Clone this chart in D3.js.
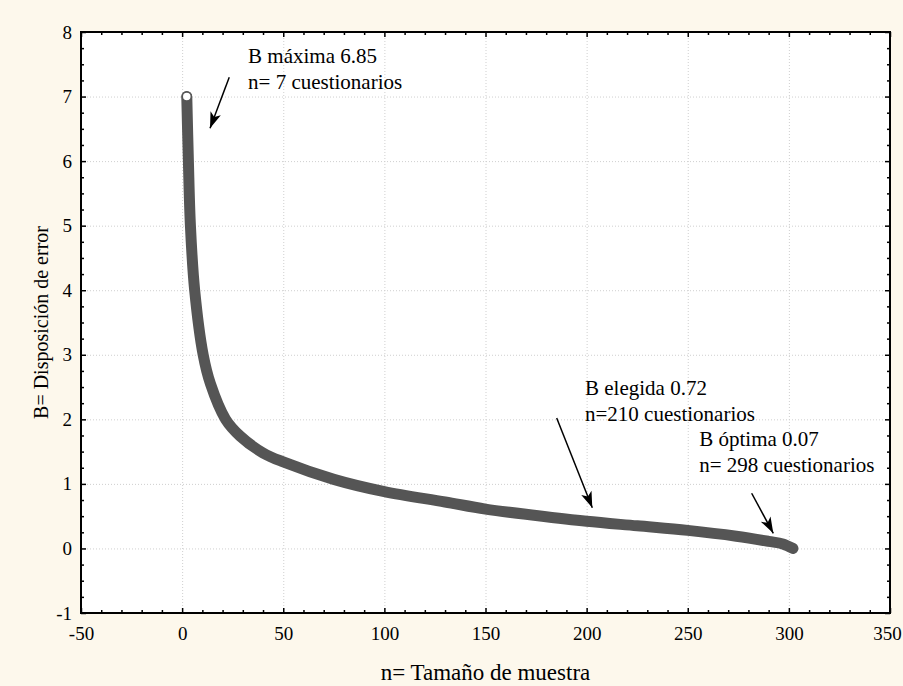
<!DOCTYPE html>
<html>
<head>
<meta charset="utf-8">
<script src="https://cdn.jsdelivr.net/npm/d3@7"></script>
<style>
  body { margin: 0; background: #fdf8ec; }
  svg { display: block; }
  .tick text { font-family: "Liberation Serif", "Times New Roman", serif; font-size: 19px; fill: #000; }
  .grid line { stroke: #cfcfcf; stroke-dasharray: 1,2; }
  .grid .domain { display: none; }
</style>
</head>
<body>
<script>
// curve: n (sample size) vs B (error)
var sampleN = [2.3, 3.1, 4.1, 6.2, 10.4, 14, 21.5, 28.7, 40, 50, 75, 100, 130, 150, 175, 200, 225, 250, 274, 290, 297, 302];
var errorB  = [7.0, 6.0, 5.0, 4.0, 3.0, 2.55, 2.0, 1.74, 1.48, 1.34, 1.07, 0.88, 0.72, 0.61, 0.51, 0.42, 0.35, 0.28, 0.19, 0.11, 0.07, 0.0];

var xTicks = [-50, 0, 50, 100, 150, 200, 250, 300, 350];
var yTicks = [-1, 0, 1, 2, 3, 4, 5, 6, 7, 8];

// annotations (data units): arrow from -> to, and text lines
var noteText = [
  ["B máxima 6.85", "n= 7 cuestionarios"],
  ["B elegida 0.72", "n=210 cuestionarios"],
  ["B óptima 0.07", "n= 298 cuestionarios"]
];
var noteAt = [[32.6, 7.52], [199.2, 2.38], [255.7, 1.58]];
var arrowFrom = [[23.3, 7.30], [185.2, 2.02], [281.6, 0.855]];
var arrowTo = [[13.8, 6.51], [202.8, 0.63], [292.3, 0.235]];

var W = 903, H = 686;
var margin = {top: 32, right: 13, bottom: 73, left: 81};
var width = W - margin.left - margin.right;
var height = H - margin.top - margin.bottom;

var x = d3.scaleLinear().domain([-50, 350]).range([0, width]);
var y = d3.scaleLinear().domain([-1, 8]).range([height, 0]);

var svg = d3.select("body").append("svg")
  .attr("width", W)
  .attr("height", H);

svg.append("defs").append("marker")
  .attr("id", "head")
  .attr("markerUnits", "userSpaceOnUse")
  .attr("viewBox", "-18 -7 20 14")
  .attr("markerWidth", 20)
  .attr("markerHeight", 14)
  .attr("refX", 0)
  .attr("refY", 0)
  .attr("orient", "auto")
  .append("path")
  .attr("d", "M0,0 L-16,-5.5 L-12,0 L-16,5.5 Z")
  .attr("fill", "#000");

var g = svg.append("g")
  .attr("transform", "translate(" + margin.left + "," + margin.top + ")");

g.append("rect")
  .attr("width", width)
  .attr("height", height)
  .attr("fill", "#fff");

// grid
g.append("g")
  .attr("class", "grid")
  .call(d3.axisBottom(x).tickValues(xTicks).tickSize(height).tickFormat(""));
g.append("g")
  .attr("class", "grid")
  .call(d3.axisLeft(y).tickValues(yTicks).tickSize(-width).tickFormat(""));

// curve
var pts = sampleN.map(function(n, i) { return [n, errorB[i]]; });
var line = d3.line()
  .x(function(d) { return x(d[0]); })
  .y(function(d) { return y(d[1]); })
  .curve(d3.curveCatmullRom.alpha(0.5));

g.append("path")
  .datum(pts)
  .attr("fill", "none")
  .attr("stroke", "#555")
  .attr("stroke-width", 11)
  .attr("stroke-linecap", "round")
  .attr("stroke-linejoin", "round")
  .attr("d", line);

g.append("circle")
  .attr("cx", x(pts[0][0]))
  .attr("cy", y(pts[0][1]))
  .attr("r", 4.5)
  .attr("fill", "#fff")
  .attr("stroke", "#555")
  .attr("stroke-width", 1.5);

// axes, ticks pointing inward on all sides
var minorX = d3.range(-50, 351, 10).filter(function(v) { return v % 50 !== 0; });
var minorY = d3.range(-1, 8.01, 0.25).filter(function(v) { return v % 1 !== 0; });
var plain = function(d) { return String(d); };

function cleanAxis(sel) {
  sel.select(".domain").remove();
  sel.selectAll("line").attr("stroke", "#000").attr("stroke-width", 1.5);
}

var xAxisG = g.append("g").attr("transform", "translate(0," + height + ")")
  .call(d3.axisBottom(x).tickValues(xTicks).tickSize(-5).tickPadding(14).tickFormat(plain))
  .call(cleanAxis);
xAxisG.selectAll(".tick text").filter(function(d) { return d === 350; }).attr("dx", -3);

g.append("g").attr("transform", "translate(0," + height + ")")
  .call(d3.axisBottom(x).tickValues(minorX).tickSize(-3).tickFormat(""))
  .call(cleanAxis);
g.append("g")
  .call(d3.axisTop(x).tickValues(xTicks).tickSize(-5).tickFormat(""))
  .call(cleanAxis);
g.append("g")
  .call(d3.axisTop(x).tickValues(minorX).tickSize(-3).tickFormat(""))
  .call(cleanAxis);

g.append("g")
  .call(d3.axisLeft(y).tickValues(yTicks).tickSize(-5).tickPadding(9).tickFormat(plain))
  .call(cleanAxis);
g.append("g")
  .call(d3.axisLeft(y).tickValues(minorY).tickSize(-3).tickFormat(""))
  .call(cleanAxis);
g.append("g").attr("transform", "translate(" + width + ",0)")
  .call(d3.axisRight(y).tickValues(yTicks).tickSize(-5).tickFormat(""))
  .call(cleanAxis);
g.append("g").attr("transform", "translate(" + width + ",0)")
  .call(d3.axisRight(y).tickValues(minorY).tickSize(-3).tickFormat(""))
  .call(cleanAxis);

g.append("rect")
  .attr("width", width)
  .attr("height", height)
  .attr("fill", "none")
  .attr("stroke", "#000")
  .attr("stroke-width", 2);

// annotations
noteText.forEach(function(lines, i) {
  var t = g.append("text")
    .attr("x", x(noteAt[i][0]))
    .attr("y", y(noteAt[i][1]))
    .style("font-family", "'Liberation Serif', 'Times New Roman', serif")
    .style("font-size", "21px");
  lines.forEach(function(s, j) {
    t.append("tspan")
      .attr("x", x(noteAt[i][0]))
      .attr("dy", j === 0 ? 0 : 26)
      .text(s);
  });
  g.append("line")
    .attr("x1", x(arrowFrom[i][0]))
    .attr("y1", y(arrowFrom[i][1]))
    .attr("x2", x(arrowTo[i][0]))
    .attr("y2", y(arrowTo[i][1]))
    .attr("stroke", "#000")
    .attr("stroke-width", 1.5)
    .attr("marker-end", "url(#head)");
});

// axis titles
svg.append("text")
  .attr("x", margin.left + width / 2)
  .attr("y", 680)
  .attr("text-anchor", "middle")
  .style("font-family", "'Liberation Serif', 'Times New Roman', serif")
  .style("font-size", "23px")
  .text("n= Tamaño de muestra");

svg.append("text")
  .attr("transform", "translate(48," + (margin.top + height / 2) + ") rotate(-90)")
  .attr("text-anchor", "middle")
  .style("font-family", "'Liberation Serif', 'Times New Roman', serif")
  .style("font-size", "20px")
  .text("B= Disposición de error");
</script>
</body>
</html>
